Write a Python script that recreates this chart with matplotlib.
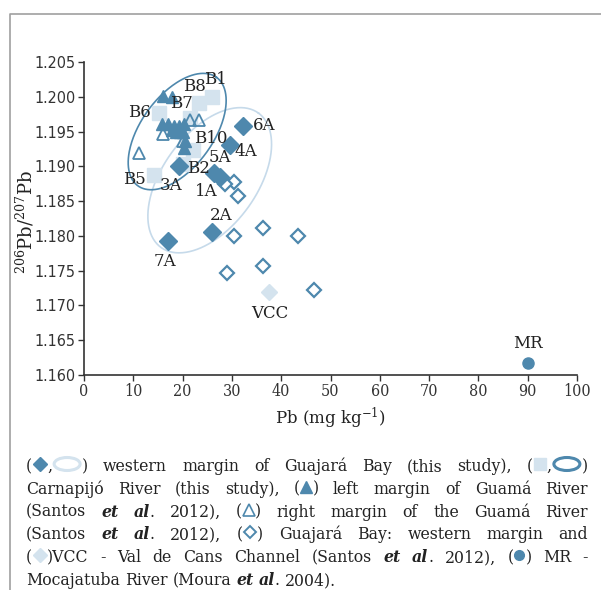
import re
import numpy as np
import matplotlib
matplotlib.use('Agg')
import matplotlib.pyplot as plt
from matplotlib.patches import Ellipse
from matplotlib.font_manager import FontProperties

# western margin of Guajara Bay (this study)
wm_labels = ['1A', '2A', '3A', '4A', '5A', '6A', '7A']
wm_pb = [27.6, 26.0, 19.3, 29.7, 26.4, 32.3, 17.1]
wm_ratio = [1.1884, 1.1806, 1.1900, 1.1930, 1.1891, 1.1958, 1.1792]

# Carnapijo River (this study)
cr_labels = ['B1', 'B2', 'B5', 'B6', 'B7', 'B8', 'B10']
cr_pb = [26.0, 20.1, 14.2, 15.2, 21.5, 23.4, 22.2]
cr_ratio = [1.1999, 1.1904, 1.1888, 1.1976, 1.1969, 1.1991, 1.1923]

# left margin of Guama River (Santos et al. 2012)
lg_pb = [16.1, 17.9, 15.9, 17.1, 18.3, 19.3, 20.3, 18.7, 20.1, 19.5, 17.9, 20.5, 20.3]
lg_ratio = [1.2001, 1.1999, 1.1961, 1.1961, 1.1958, 1.1958, 1.1961,
            1.1950, 1.1950, 1.1949, 1.1952, 1.1936, 1.1927]

# right margin of Guama River (Santos et al. 2012)
rg_pb = [21.5, 23.4, 16.1, 20.1, 11.2]
rg_ratio = [1.1966, 1.1966, 1.1946, 1.1936, 1.1919]

# Guajara Bay western margin (Santos et al. 2012)
gb_pb = [30.5, 28.5, 31.3, 30.5, 36.4, 43.5, 29.1, 36.4, 46.7]
gb_ratio = [1.1878, 1.1875, 1.1858, 1.1800, 1.1811, 1.1800, 1.1746, 1.1756, 1.1722]

vcc_pb = [37.6]
vcc_ratio = [1.1720]
mr_pb = [90.0]
mr_ratio = [1.1617]

x_ticks = [0, 10, 20, 30, 40, 50, 60, 70, 80, 90, 100]
y_ticks = [1.160, 1.165, 1.170, 1.175, 1.180, 1.185, 1.190, 1.195, 1.200, 1.205]

# label offsets in pixels (dx, dy up)
label_off = {'1A': (-14, -14), '2A': (9, 16), '3A': (-8, -19), '4A': (15, -6),
             '5A': (6, 15), '6A': (21, 0), '7A': (-3, -20),
             'B1': (3, 18), 'B2': (15, -5), 'B5': (-20, -5), 'B6': (-20, 1),
             'B7': (-9, 15), 'B8': (-5, 17), 'B10': (17, 12),
             'VCC': (0, -22), 'MR': (0, 20)}

DARK = '#4e88ad'
LIGHT = '#d4e3ee'
AXC = '#333333'
TXT = '#222222'

plt.rcParams['mathtext.fontset'] = 'dejavuserif'
serif = 'DejaVu Serif'

fig = plt.figure(figsize=(6.01, 5.90), dpi=100)
ax = fig.add_axes([84 / 601, 1 - 375 / 590, 493 / 601, 313 / 590])
ax.set_xlim(0, 100)
ax.set_ylim(1.160, 1.205)


def draw_ellipse(center, a, b, angle, **kw):
    t = np.linspace(0, 2 * np.pi, 300)
    th = np.deg2rad(angle)
    cx, cy = ax.transData.transform(center)
    xs = cx + a * np.cos(t) * np.cos(th) - b * np.sin(t) * np.sin(th)
    ys = cy + a * np.cos(t) * np.sin(th) + b * np.sin(t) * np.cos(th)
    pts = ax.transData.inverted().transform(np.column_stack([xs, ys]))
    ax.plot(pts[:, 0], pts[:, 1], **kw)


draw_ellipse((25.5, 1.1880), 83, 47, 54, color='#c6daea', lw=1.2, zorder=1)
draw_ellipse((18.9, 1.1950), 67, 36, 54, color=DARK, lw=1.2, zorder=1)

ax.plot(cr_pb, cr_ratio, 's', ms=10, color=LIGHT, mec=LIGHT, zorder=2)
ax.plot(vcc_pb, vcc_ratio, 'D', ms=8.6, color=LIGHT, zorder=2)
ax.plot(gb_pb, gb_ratio, 'D', ms=7.3, mfc='white', mec=DARK, mew=1.6, zorder=3)
ax.plot(rg_pb, rg_ratio, '^', ms=9, mfc='none', mec=DARK, mew=1.3, zorder=3)
ax.plot(lg_pb, lg_ratio, '^', ms=9, color=DARK, zorder=4)
ax.plot(wm_pb, wm_ratio, 'D', ms=8.8, color=DARK, zorder=5)
ax.plot(mr_pb, mr_ratio, 'o', ms=8, color=DARK, zorder=5)


def put_label(name, x, y):
    dx, dy = label_off[name]
    ax.annotate(name, (x, y), xytext=(dx * 0.72, dy * 0.72), textcoords='offset points',
                ha='center', va='center', fontsize=12, family=serif, color=TXT, zorder=6)


for n, x, y in zip(wm_labels, wm_pb, wm_ratio):
    put_label(n, x, y)
for n, x, y in zip(cr_labels, cr_pb, cr_ratio):
    put_label(n, x, y)
put_label('VCC', vcc_pb[0], vcc_ratio[0])
put_label('MR', mr_pb[0], mr_ratio[0])

ax.set_xticks(x_ticks)
ax.set_yticks(y_ticks)
ax.set_yticklabels([f'{v:.3f}' for v in y_ticks],
                   fontproperties=FontProperties(family='DejaVu Sans', stretch='condensed', size=11.5),
                   color=AXC)
ax.set_xticklabels([str(v) for v in x_ticks],
                   fontproperties=FontProperties(family=serif, stretch='condensed', size=11.5),
                   color=AXC)
ax.tick_params(direction='out', length=4, width=1, color=AXC, pad=2)
for s in ['top', 'right']:
    ax.spines[s].set_visible(False)
for s in ['left', 'bottom']:
    ax.spines[s].set_color(AXC)
    ax.spines[s].set_linewidth(1.2)
ax.set_xlabel('Pb (mg kg$^{-1}$)', fontsize=12, family=serif, color=TXT, labelpad=4)
ax.set_ylabel('$^{206}$Pb/$^{207}$Pb', fontsize=13, family=serif, color=TXT)
ax.yaxis.set_label_coords(-0.097, 0.49)

# overlay in pixel coordinates for frame and caption
ov = fig.add_axes([0, 0, 1, 1], zorder=-1)
ov.set_xlim(0, 601)
ov.set_ylim(590, 0)
ov.axis('off')
ov.plot([10, 10, 601], [590, 14, 14], color='#a0a0a0', lw=1.2, clip_on=False)

caption = [
    '({D},{E1}) western margin of Guajará Bay (this study), ({S},{E2})',
    'Carnapijó River (this study), ({T}) left margin of Guamá River',
    '(Santos *et* *al*. 2012), ({t}) right margin of the Guamá River',
    '(Santos *et* *al*. 2012), ({d}) Guajará Bay: western margin and',
    '({V})VCC - Val de Cans Channel (Santos *et* *al*. 2012), ({C}) MR -',
    'Mocajatuba River (Moura *et* *al*. 2004).',
]
marker_w = {'D': 15, 'E1': 30, 'S': 14, 'E2': 30, 'T': 13, 't': 13, 'd': 15, 'V': 15, 'C': 12}

cap_size = 12.6
p_norm = FontProperties(family=serif, stretch='condensed', size=cap_size)
p_bi = FontProperties(family=serif, stretch='condensed', size=cap_size, weight='bold', style='italic')
renderer = fig.canvas.get_renderer()


def text_w(s, prop):
    return renderer.get_text_width_height_descent(s, prop, ismath=False)[0]


space_w = text_w('a a', p_norm) - text_w('aa', p_norm)


def parse(word):
    segs = []
    for part in re.split(r'(\{\w+\}|\*[^*]+\*)', word):
        if not part:
            continue
        if part.startswith('{'):
            segs.append(('m', part[1:-1], marker_w[part[1:-1]]))
        elif part.startswith('*'):
            segs.append(('b', part[1:-1], text_w(part[1:-1], p_bi)))
        else:
            segs.append(('n', part, text_w(part, p_norm)))
    return segs


def draw_marker(kind, x, y):
    c = x + marker_w[kind] / 2
    ym = y - 7
    if kind == 'D':
        ov.plot(c, ym, 'D', ms=7.5, color=DARK)
    elif kind == 'V':
        ov.plot(c, ym, 'D', ms=7.5, color=LIGHT)
    elif kind == 'd':
        ov.plot(c, ym, 'D', ms=6.5, mfc='white', mec=DARK, mew=1.4)
    elif kind == 'S':
        ov.plot(c, ym, 's', ms=9, color=LIGHT)
    elif kind == 'T':
        ov.plot(c, ym, '^', ms=8, color=DARK)
    elif kind == 't':
        ov.plot(c, ym, '^', ms=8, mfc='none', mec=DARK, mew=1.2)
    elif kind == 'C':
        ov.plot(c, ym, 'o', ms=7, color=DARK)
    elif kind in ('E1', 'E2'):
        col = '#d4e3ee' if kind == 'E1' else DARK
        ov.add_patch(Ellipse((c, ym), marker_w[kind] - 4, 13, fill=False, ec=col, lw=2.2))


left, right = 26, 588
for i, line in enumerate(caption):
    base = 471 + 22.8 * i
    words = [parse(w) for w in line.split(' ')]
    widths = [sum(s[2] for s in w) for w in words]
    if i < len(caption) - 1:
        gap = (right - left - sum(widths)) / (len(words) - 1)
    else:
        gap = space_w
    x = left
    for w, ww in zip(words, widths):
        xx = x
        for kind, val, sw in w:
            if kind == 'm':
                draw_marker(val, xx, base)
            else:
                ov.text(xx, base, val, fontproperties=p_bi if kind == 'b' else p_norm,
                        va='baseline', ha='left', color=TXT)
            xx += sw
        x += ww + gap

fig.savefig('out.png', dpi=100)
